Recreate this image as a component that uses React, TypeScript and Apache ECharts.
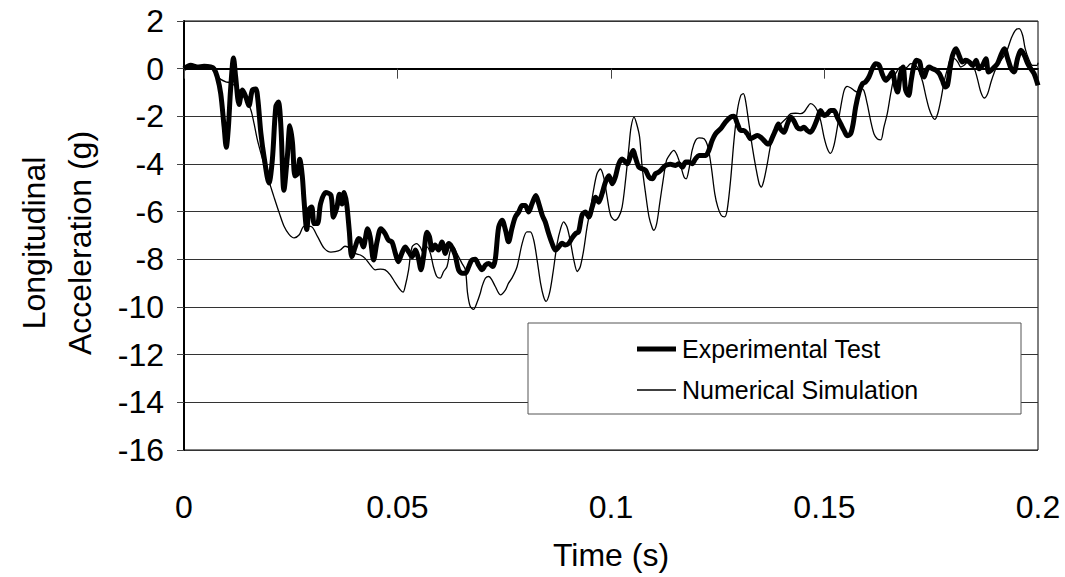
import React, { useEffect, useRef } from "react";
import * as echarts from "echarts";

// Experimental test: time (ms) and longitudinal acceleration (g)
const expTimeMs = [
  0, 1.56, 3.1, 4.7, 6.25, 7.0, 7.8, 8.6, 9.4, 9.9, 10.4, 10.9, 11.6, 12.1, 12.9, 13.7, 14.5, 15.2, 16.0, 16.8,
  17.3, 18.0, 18.75, 19.9, 20.7, 21.5, 22.1, 22.7, 23.4, 24.2, 24.8, 25.4, 26.0, 26.6, 27.1, 27.7, 28.1, 28.75, 29.3, 29.9,
  30.5, 31.25, 32.0, 33.2, 34.4, 35.0, 35.8, 36.4, 37.0, 37.5, 38.1, 38.7, 39.3, 40.1, 40.9, 41.4, 42.0, 43.0, 43.6, 44.4,
  45.2, 46.1, 47.1, 47.9, 48.7, 49.5, 50.2, 51.0, 51.8, 52.6, 53.4, 54.2, 54.9, 55.5, 56.1, 56.9, 57.5, 58.1, 58.8, 59.6,
  60.4, 61.2, 62.0, 62.7, 63.5, 64.3, 65.1, 65.9, 66.7, 67.4, 68.2, 69.0, 69.8, 70.6, 71.4, 72.3, 72.9, 73.7, 74.5, 75.3,
  76.0, 76.8, 77.6, 78.4, 79.2, 79.9, 80.7, 81.5, 82.4, 83.1, 83.9, 84.6, 85.4, 86.2, 87.0, 87.8, 88.5, 89.3, 90.1, 90.9,
  91.7, 92.4, 93.2, 94.0, 94.8, 95.6, 96.4, 97.1, 97.9, 98.7, 99.5, 100.3, 101.0, 101.8, 102.6, 103.4, 103.8, 104.6, 105.2, 105.7,
  106.5, 107.3, 108.1, 108.9, 109.7, 110.4, 111.2, 112.0, 112.8, 113.9, 115.1, 115.9, 116.7, 117.5, 118.2, 119.0, 119.8, 120.6, 121.4, 122.2,
  122.9, 123.7, 124.5, 125.7, 126.8, 128.0, 128.8, 129.6, 130.4, 131.1, 131.9, 132.7, 133.5, 134.3, 135.0, 135.8, 136.6, 137.0, 137.8, 138.5,
  139.2, 139.7, 140.5, 141.3, 142.1, 142.8, 143.6, 144.4, 145.2, 146.0, 146.7, 147.5, 148.3, 149.1, 149.9, 150.7, 151.4, 152.2, 153.0, 153.8,
  154.6, 155.3, 156.1, 156.7, 157.3, 158.1, 158.9, 159.6, 160.4, 161.2, 162.0, 162.8, 163.5, 164.3, 165.1, 165.9, 166.5, 167.1, 167.8, 168.4,
  169.0, 169.7, 170.3, 170.9, 171.5, 172.3, 172.8, 173.3, 173.9, 174.5, 175.3, 176.1, 176.9, 177.6, 178.3, 178.8, 179.4, 180.0, 180.8, 181.5,
  182.3, 183.1, 183.9, 184.7, 185.5, 186.2, 187.0, 187.8, 188.4, 189.0, 189.8, 190.5, 191.3, 192.1, 192.9, 193.7, 194.4, 195.2, 196.0, 196.8,
  197.6, 198.3, 199.1, 200.0,
];
const expAccel = [
  0, 0.14, 0.07, 0.1, 0.07, 0, -0.35, -1.05, -2.45, -3.3, -2.45, -0.9, 0.45, -0.35, -1.5, -0.9, -1.2, -1.55, -0.9, -0.85,
  -1.3, -2.7, -3.7, -4.8, -3.8, -1.6, -1.4, -2.45, -5.1, -3.7, -2.4, -3.1, -4.5, -4.4, -3.8, -4.5, -5.5, -6.75, -5.9, -5.8,
  -6.5, -6.5, -5.65, -5.2, -5.3, -6.23, -5.82, -5.27, -5.68, -5.2, -5.68, -6.79, -7.89, -7.48, -7.13, -7.2, -7.48, -6.72, -7.06, -8.03,
  -7.27, -6.72, -6.92, -7.2, -7.27, -7.75, -8.1, -7.75, -7.48, -7.68, -7.89, -7.61, -7.96, -8.44, -7.89, -6.86, -7.06, -7.61, -7.4, -7.61,
  -7.27, -7.75, -7.34, -7.48, -7.82, -8.44, -8.58, -8.58, -8.3, -8.03, -8.0, -8.24, -8.44, -8.24, -8.17, -8.3, -8.0, -6.64, -6.36, -6.78,
  -7.26, -6.7, -6.22, -6.01, -5.74, -5.74, -6.01, -5.67, -5.32, -5.67, -6.15, -6.43, -6.92, -7.33, -7.61, -7.47, -7.33, -7.4, -7.33, -7.1,
  -6.92, -6.85, -6.15, -6.01, -6.22, -5.8, -5.39, -5.6, -5.25, -4.76, -4.49, -4.83, -4.56, -4.0, -3.79, -3.92, -3.99, -3.64, -3.43, -3.71,
  -4.13, -4.2, -4.27, -4.55, -4.62, -4.41, -4.34, -4.2, -4.06, -4.01, -4.06, -3.99, -4.13, -3.92, -3.92, -3.99, -3.78, -3.64, -3.64, -3.64,
  -3.43, -3.01, -2.73, -2.52, -2.24, -2.03, -2.0, -2.31, -2.59, -2.59, -2.73, -2.94, -2.87, -2.8, -2.87, -3.01, -3.15, -3.16, -2.88, -2.6,
  -2.32, -2.53, -2.67, -2.32, -2.04, -2.18, -2.46, -2.53, -2.46, -2.6, -2.67, -2.46, -2.11, -1.75, -1.96, -1.89, -1.75, -1.75, -2.04, -2.32,
  -2.6, -2.81, -2.74, -2.32, -1.61, -0.98, -0.63, -0.56, -0.35, 0, 0.21, 0.14, -0.21, -0.49, -0.35, -0.14, -0.63, -0.98, -0.21, 0.07,
  -0.9, -1.12, -0.5, 0.1, 0.35, 0.28, -0.21, -0.35, -0.07, 0.07, 0, -0.07, -0.21, -0.49, -0.77, -0.7, 0, 0.56, 0.84, 0.56,
  0.28, 0.35, 0.28, 0.14, 0.35, 0, 0.14, 0.42, -0.14, -0.07, 0.07, 0.21, 0.56, 0.84, 0.42, 0, -0.14, 0.42, 0.77, 0.56,
  0.21, 0, -0.21, -0.7,
];

// Numerical simulation: time (ms) and longitudinal acceleration (g)
const simTimeMs = [
  0, 3.1, 6.25, 7.0, 7.8, 8.6, 9.8, 10.9, 12.5, 14.1, 15.6, 16.4, 17.2, 18.4, 19.5, 20.3, 21.1, 22.3, 23.4, 24.6,
  25.8, 27.0, 28.1, 29.7, 31.25, 32.8, 34.4, 35.4, 36.6, 37.7, 38.9, 40.1, 41.3, 42.4, 43.6, 44.8, 46.0, 47.1, 48.3, 49.5,
  50.6, 51.3, 51.8, 52.6, 53.4, 54.5, 55.3, 56.1, 56.9, 57.7, 58.4, 59.2, 60.0, 60.8, 61.6, 62.4, 63.1, 63.9, 65.1, 65.9,
  66.4, 67.0, 67.8, 68.6, 69.4, 69.8, 70.6, 71.4, 72.1, 72.9, 74.1, 75.3, 76.0, 76.8, 78.0, 79.2, 80.3, 81.1, 81.9, 82.7,
  83.5, 84.2, 84.8, 85.6, 86.4, 87.4, 88.2, 88.9, 89.7, 90.5, 91.3, 92.1, 92.8, 93.6, 94.4, 95.2, 95.9, 96.7, 97.5, 98.3,
  99.1, 99.9, 100.9, 101.8, 102.6, 103.4, 104.2, 104.7, 105.4, 106.0, 106.7, 107.3, 108.1, 108.9, 109.7, 110.0, 110.7, 111.4, 112.2, 113.0,
  113.9, 114.7, 115.5, 116.3, 117.1, 117.6, 118.2, 119.0, 119.8, 120.6, 121.8, 122.7, 123.5, 124.3, 125.0, 125.8, 126.6, 127.2, 128.0, 128.8,
  129.6, 130.4, 131.0, 131.5, 132.3, 133.1, 133.9, 134.7, 135.2, 135.8, 136.6, 137.4, 138.2, 138.9, 139.7, 140.9, 142.1, 143.2, 144.4, 145.2,
  146.0, 146.7, 147.5, 148.3, 149.1, 149.9, 150.7, 151.4, 152.2, 153.0, 153.8, 154.6, 155.3, 156.1, 156.9, 157.7, 158.5, 159.2, 160.0, 160.8,
  161.6, 162.4, 163.2, 163.9, 164.7, 165.5, 166.3, 167.1, 167.8, 168.6, 169.4, 170.2, 171.4, 172.2, 173.0, 173.7, 174.5, 175.3, 175.8, 176.5,
  177.3, 178.0, 178.8, 179.6, 180.4, 181.2, 181.9, 182.7, 183.5, 184.3, 185.1, 185.8, 186.6, 187.4, 188.2, 189.0, 189.8, 190.5, 191.3, 192.1,
  192.9, 193.7, 194.7, 195.6, 196.4, 197.0, 197.8, 198.7, 199.8, 200.0,
];
const simAccel = [
  0, 0.07, 0, 0, -0.3, -0.45, -0.55, -0.6, -0.8, -1.2, -1.7, -2.3, -3.0, -3.8, -4.5, -4.95, -5.4, -6.05, -6.6, -6.95,
  -7.1, -6.97, -6.62, -6.62, -7.04, -7.53, -7.7, -7.68, -7.61, -7.45, -7.54, -7.75, -7.82, -7.96, -8.23, -8.44, -8.41, -8.44, -8.65, -8.99,
  -9.27, -9.38, -9.13, -8.44, -7.48, -7.34, -7.48, -7.75, -7.48, -7.75, -8.3, -8.72, -8.79, -8.51, -8.3, -7.61, -7.48, -7.75, -8.17, -8.44,
  -9.41, -9.96, -10.1, -9.82, -9.41, -9.14, -8.79, -8.72, -8.86, -9.14, -9.49, -9.28, -9.0, -8.79, -8.31, -7.33, -6.85, -6.85, -7.19, -8.03,
  -9.0, -9.56, -9.76, -9.42, -8.58, -7.33, -6.71, -6.43, -6.64, -7.26, -8.03, -8.51, -8.31, -7.61, -6.64, -5.88, -5.11, -4.42, -4.21, -4.56,
  -5.39, -6.15, -6.36, -6.22, -5.81, -4.69, -3.29, -2.45, -2.03, -2.31, -2.87, -4.13, -5.24, -6.22, -6.71, -6.78, -6.5, -5.66, -4.69, -3.85,
  -3.57, -3.43, -3.64, -4.06, -4.55, -4.62, -4.27, -3.43, -3.01, -2.9, -2.94, -3.29, -4.13, -5.24, -5.8, -6.15, -6.22, -5.94, -4.69, -3.01,
  -1.75, -1.12, -1.05, -1.33, -2.31, -3.29, -4.13, -4.83, -4.97, -4.69, -3.99, -3.2, -2.74, -2.53, -2.32, -2.11, -1.89, -1.87, -1.89, -1.82,
  -1.61, -1.47, -1.54, -1.75, -2.18, -2.88, -3.37, -3.55, -3.23, -2.46, -1.61, -0.91, -0.74, -0.8, -0.91, -0.98, -0.84, -0.91, -1.47, -2.18,
  -2.74, -2.95, -2.99, -2.46, -1.89, -1.05, -0.35, -0.07, 0.07, 0, 0.07, 0.21, 0.14, -0.14, -0.56, -1.12, -1.68, -2.03, -2.13, -1.89,
  -1.26, -0.56, 0, 0.42, 0.42, 0.28, 0.07, 0.14, 0.28, 0.14, 0, -0.42, -0.98, -1.23, -1.05, -0.56, -0.14, 0.14, 0.35, 0.56,
  0.84, 1.26, 1.61, 1.68, 1.4, 0.84, 0.42, 0.14, 0.14, 0.25,
];

const seriesNames = ["Experimental Test", "Numerical Simulation"];
const xAxisTitle = "Time (s)";
const yAxisTitleLines = ["Longitudinal", "Acceleration (g)"];

const FONT = "'Liberation Sans', Arial, sans-serif";
const EXP_WIDTH = 5;
const SIM_WIDTH = 1.3;

export default function App() {
  const ref = useRef<HTMLDivElement>(null);

  useEffect(() => {
    if (!ref.current) return;
    const chart = echarts.init(ref.current, undefined, { renderer: "svg" });
    const expData = expTimeMs.map((t, i) => [t / 1000, expAccel[i]]);
    const simData = simTimeMs.map((t, i) => [t / 1000, simAccel[i]]);

    const legendLineX1 = 637;
    const legendLineX2 = 676;
    const legendTextX = 682;
    const legendRows = [349, 390];

    chart.setOption({
      animation: false,
      backgroundColor: "#ffffff",
      textStyle: { fontFamily: FONT },
      grid: {
        left: 184,
        right: 27,
        top: 21,
        bottom: 127,
        show: true,
        borderColor: "#000",
        borderWidth: 1,
        backgroundColor: "transparent",
      },
      xAxis: {
        type: "value",
        min: 0,
        max: 0.2,
        interval: 0.05,
        name: xAxisTitle,
        nameLocation: "middle",
        nameGap: 89,
        nameTextStyle: { fontSize: 32, color: "#000", fontFamily: FONT },
        axisLine: { show: true, lineStyle: { color: "#000", width: 2 } },
        axisTick: { show: true, inside: false, length: 10, lineStyle: { color: "#444", width: 1 } },
        axisLabel: { fontSize: 32, color: "#000", margin: 41, fontFamily: FONT },
        splitLine: { show: false },
      },
      yAxis: {
        type: "value",
        min: -16,
        max: 2,
        interval: 2,
        axisLine: { show: true, lineStyle: { color: "#000", width: 2 } },
        axisTick: { show: true, inside: false, length: 7, lineStyle: { color: "#444", width: 1 } },
        axisLabel: { fontSize: 32, color: "#000", margin: 20, fontFamily: FONT },
        splitLine: { show: true, lineStyle: { color: "#333", width: 1 } },
      },
      graphic: [
        {
          type: "rect",
          z: 3,
          shape: { x: 528, y: 323, width: 493, height: 91 },
          style: { fill: "#fff", stroke: "#555", lineWidth: 1 },
        },
        {
          type: "line",
          z: 4,
          shape: { x1: legendLineX1, y1: legendRows[0], x2: legendLineX2, y2: legendRows[0] },
          style: { stroke: "#000", lineWidth: EXP_WIDTH },
        },
        {
          type: "text",
          z: 4,
          x: legendTextX,
          y: legendRows[0],
          style: {
            text: seriesNames[0],
            fontSize: 25,
            fontFamily: FONT,
            fill: "#000",
            align: "left",
            verticalAlign: "middle",
          },
        },
        {
          type: "line",
          z: 4,
          shape: { x1: legendLineX1, y1: legendRows[1], x2: legendLineX2, y2: legendRows[1] },
          style: { stroke: "#000", lineWidth: SIM_WIDTH },
        },
        {
          type: "text",
          z: 4,
          x: legendTextX,
          y: legendRows[1],
          style: {
            text: seriesNames[1],
            fontSize: 25,
            fontFamily: FONT,
            fill: "#000",
            align: "left",
            verticalAlign: "middle",
          },
        },
        {
          type: "text",
          x: 34,
          y: 243,
          rotation: Math.PI / 2,
          style: {
            text: yAxisTitleLines[0],
            fontSize: 32,
            fontFamily: FONT,
            fill: "#000",
            align: "center",
            verticalAlign: "middle",
          },
        },
        {
          type: "text",
          x: 80,
          y: 243,
          rotation: Math.PI / 2,
          style: {
            text: yAxisTitleLines[1],
            fontSize: 32,
            fontFamily: FONT,
            fill: "#000",
            align: "center",
            verticalAlign: "middle",
          },
        },
      ],
      series: [
        {
          name: seriesNames[1],
          type: "line",
          data: simData,
          symbol: "none",
          smooth: 0.3,
          lineStyle: { color: "#000", width: SIM_WIDTH },
          itemStyle: { color: "#000" },
        },
        {
          name: seriesNames[0],
          type: "line",
          data: expData,
          symbol: "none",
          smooth: 0.3,
          lineStyle: { color: "#000", width: EXP_WIDTH },
          itemStyle: { color: "#000" },
        },
      ],
    });
    return () => chart.dispose();
  }, []);

  return (
    <div
      ref={ref}
      style={{ position: "absolute", left: 0, top: 0, width: 1065, height: 577, background: "#fff" }}
    />
  );
}
